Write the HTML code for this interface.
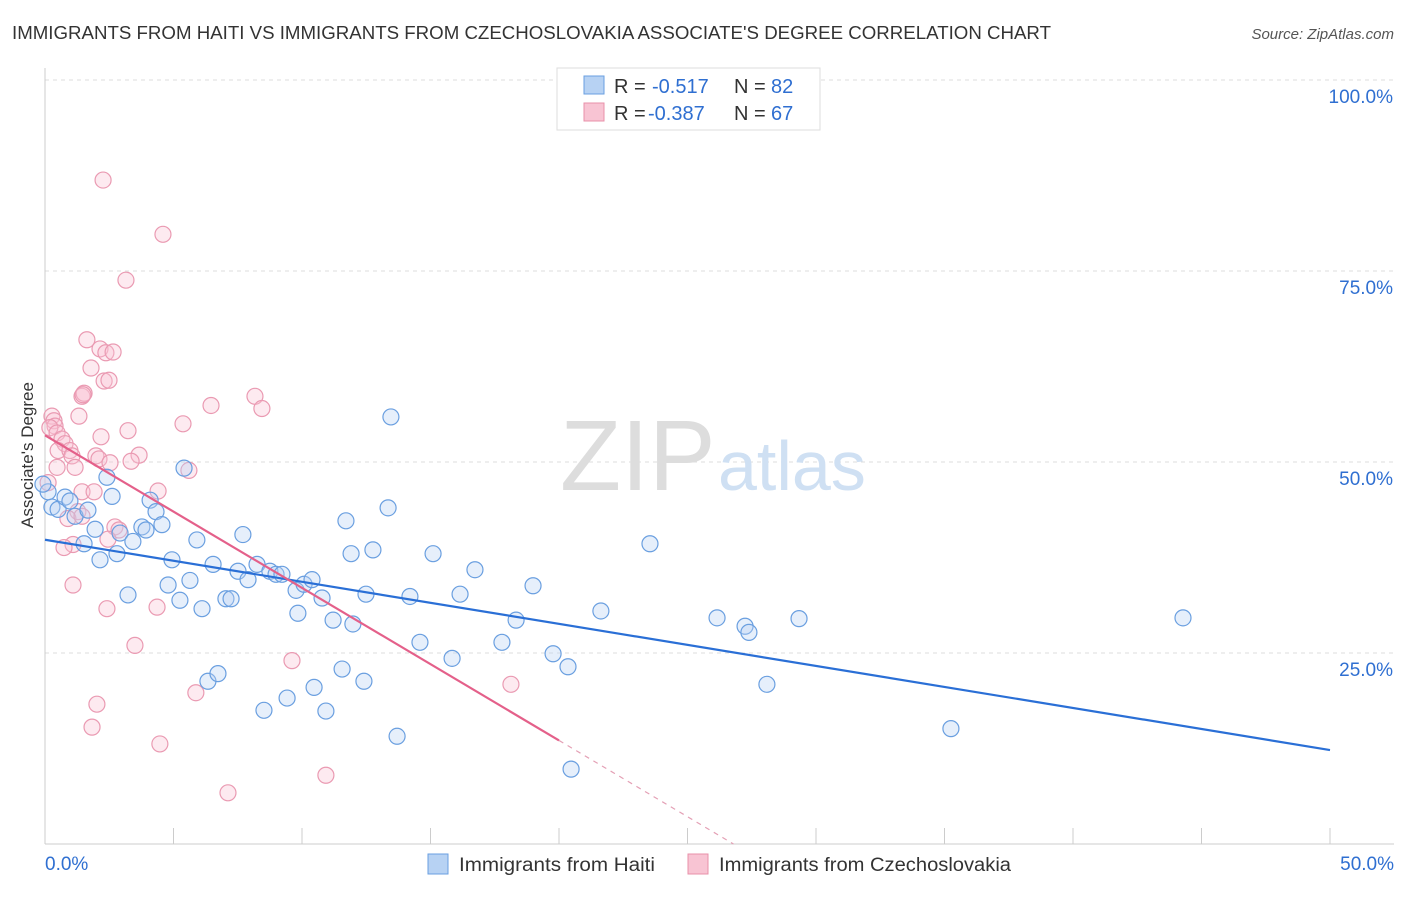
<!DOCTYPE html>
<html><head><meta charset="utf-8">
<style>
body{margin:0;background:#fff;font-family:"Liberation Sans",sans-serif;}
svg text{font-family:"Liberation Sans",sans-serif;}
</style></head>
<body>
<svg id="c" width="1406" height="892" xmlns="http://www.w3.org/2000/svg">
<text x="12" y="39" font-size="18" fill="#333" textLength="1039" lengthAdjust="spacingAndGlyphs">IMMIGRANTS FROM HAITI VS IMMIGRANTS FROM CZECHOSLOVAKIA ASSOCIATE'S DEGREE CORRELATION CHART</text>
<text x="1394" y="39" font-size="15" fill="#555" font-style="italic" text-anchor="end">Source: ZipAtlas.com</text>
<g id="grid"></g>
<text x="560" y="490" font-size="100" fill="#ddd" font-family="Liberation Serif">ZIP</text>
<text x="718" y="490" font-size="70" fill="#cfe0f3">atlas</text>
<text transform="translate(33,455) rotate(-90)" font-size="17" fill="#333" text-anchor="middle">Associate's Degree</text>
<g id="pts"></g>
<g id="lines"></g>
<g>
<rect x="557" y="68" width="263" height="62" fill="#fff" stroke="#ddd"/>
<rect x="584" y="76" width="20" height="18" fill="#b7d2f3" stroke="#6a9fe0"/>
<rect x="584" y="103" width="20" height="18" fill="#f8c4d3" stroke="#e890aa"/>
<text x="614" y="93" font-size="20" fill="#333">R =</text>
<text x="652" y="93" font-size="20" fill="#2f6fd1">-0.517</text>
<text x="734" y="93" font-size="20" fill="#333">N =</text>
<text x="771" y="93" font-size="20" fill="#2f6fd1">82</text>
<text x="614" y="120" font-size="20" fill="#333">R =</text>
<text x="648" y="120" font-size="20" fill="#2f6fd1">-0.387</text>
<text x="734" y="120" font-size="20" fill="#333">N =</text>
<text x="771" y="120" font-size="20" fill="#2f6fd1">67</text>
</g>
<g>
<rect x="428" y="854" width="20" height="20" fill="#b7d2f3" stroke="#6a9fe0"/>
<text x="459" y="871" font-size="19" fill="#333" textLength="196" lengthAdjust="spacingAndGlyphs">Immigrants from Haiti</text>
<rect x="688" y="854" width="20" height="20" fill="#f8c4d3" stroke="#e890aa"/>
<text x="719" y="871" font-size="19" fill="#333" textLength="292" lengthAdjust="spacingAndGlyphs">Immigrants from Czechoslovakia</text>
</g>
</svg>
<script>
const xTicks=[0,5,10,15,20,25,30,35,40,45,50];
const yTicks=[25,50,75,100];
const haitiX=[0.27,0.51,0.78,0.97,1.17,1.52,1.67,1.95,2.14,2.61,2.41,2.80,2.92,3.23,3.42,3.77,3.93,4.09,4.32,4.55,4.79,4.94,5.25,5.41,5.64,5.91,6.11,6.34,6.54,6.73,7.04,7.24,7.51,7.70,7.90,8.25,8.52,8.75,8.99,9.22,9.42,9.77,9.84,10.08,10.39,10.47,10.78,10.93,11.21,11.56,11.71,11.91,11.98,12.41,12.49,12.76,13.35,13.46,13.70,14.20,14.59,15.10,15.84,16.15,16.73,17.78,18.33,18.99,19.77,20.35,20.47,21.63,23.54,26.15,27.24,27.39,28.09,29.34,35.25,44.28,0.12,-0.08];
const haitiY=[44.1,43.8,45.4,44.9,42.9,39.3,43.7,41.2,37.2,45.5,48.0,38.0,40.7,32.6,39.6,41.5,41.1,45.0,43.5,41.8,33.9,37.2,31.9,49.2,34.5,39.8,30.8,21.3,36.6,22.3,32.1,32.1,35.7,40.5,34.6,36.6,17.5,35.7,35.3,35.3,19.1,33.2,30.2,34.0,34.6,20.5,32.2,17.4,29.3,22.9,42.3,38.0,28.8,21.3,32.7,38.5,44.0,55.9,14.1,32.4,26.4,38.0,24.3,32.7,35.9,26.4,29.3,33.8,24.9,23.2,9.8,30.5,39.3,29.6,28.5,27.7,20.9,29.5,15.1,29.6,46.1,47.1];
const czechX=[2.26,4.59,3.15,1.63,2.14,2.37,2.65,1.79,2.30,2.49,1.44,1.52,1.48,0.27,1.32,0.35,0.39,0.19,0.47,3.23,5.37,6.46,8.17,8.44,2.18,0.66,0.78,0.51,0.97,1.98,2.10,3.66,3.35,1.05,1.17,2.53,5.60,0.47,1.44,1.91,4.40,1.28,0.89,1.44,2.72,2.88,2.45,1.09,0.74,1.09,2.41,4.36,3.50,5.87,2.02,1.83,4.47,9.61,7.12,10.93,18.13,0.12];
const czechY=[86.9,79.8,73.8,66.0,64.8,64.3,64.4,62.3,60.6,60.7,58.6,59.0,58.8,56.0,56.0,55.4,54.7,54.5,53.8,54.1,55.0,57.4,58.6,57.0,53.3,53.0,52.4,51.5,51.5,50.8,50.4,50.9,50.1,50.8,49.3,49.9,48.9,49.3,46.1,46.1,46.2,43.5,42.6,42.9,41.5,41.1,39.9,39.2,38.8,33.9,30.8,31.0,26.0,19.8,18.3,15.3,13.1,24.0,6.7,9.0,20.9,47.3];
const x0=45,x1=1330,yBot=844,yTop=80;
const sx=v=>x0+v/50*(x1-x0);
const sy=v=>yBot-v/100*(yBot-yTop);
const NS="http://www.w3.org/2000/svg";
function mk(tag,attrs,parent){const e=document.createElementNS(NS,tag);for(const k in attrs)e.setAttribute(k,attrs[k]);parent.appendChild(e);return e;}
const grid=document.getElementById('grid');
yTicks.forEach(t=>{
 const l=mk('line',{x1:x0,x2:1394,y1:sy(t),y2:sy(t),stroke:'#ddd','stroke-dasharray':'4,4'},grid);
 
 
 const tx=mk('text',{x:1393,y:sy(t)+23,'font-size':19,fill:'#2f6fd1','text-anchor':'end'},grid);
 tx.textContent=t.toFixed(1)+'%';
 
 
});
const ax=mk('line',{x1:x0,x2:x0,y1:68,y2:yBot,stroke:'#ccc'},grid);


const bx=mk('line',{x1:x0,x2:1394,y1:yBot,y2:yBot,stroke:'#ccc'},grid);


xTicks.forEach(t=>{
 const l=mk('line',{x1:sx(t),x2:sx(t),y1:yBot-16,y2:yBot,stroke:'#ccc'},grid);
 
 
});
[[0,'start',45],[50,'end',1394]].forEach(([v,a,px])=>{
 const tx=mk('text',{x:px,y:870,'font-size':19,fill:'#2f6fd1','text-anchor':a},grid);
 tx.textContent=v.toFixed(1)+'%';
 
 
});
const pts=document.getElementById('pts');
czechX.forEach((v,i)=>{
 const c=mk('circle',{cx:sx(v),cy:sy(czechY[i]),r:8,fill:'rgba(248,196,211,0.35)',stroke:'#ea9ab2','stroke-width':1.2},pts);
 
 
});
haitiX.forEach((v,i)=>{
 const c=mk('circle',{cx:sx(v),cy:sy(haitiY[i]),r:8,fill:'rgba(183,210,243,0.35)',stroke:'#6a9fe0','stroke-width':1.2},pts);
 
 
});
function fit(X,Y){const n=X.length;let mx=0,my=0;X.forEach((x,i)=>{mx+=x;my+=Y[i];});mx/=n;my/=n;let sxy=0,sxx=0;X.forEach((x,i)=>{sxy+=(x-mx)*(Y[i]-my);sxx+=(x-mx)**2;});const b=sxy/sxx;return [my-b*mx,b];}
const lines=document.getElementById('lines');
const [ha,hb]=fit(haitiX,haitiY);
const hl=mk('line',{x1:sx(0),y1:sy(ha),x2:sx(50),y2:sy(ha+hb*50),stroke:'#2a6fd6','stroke-width':2.2},lines);


const [ca,cb]=fit(czechX,czechY);
const cEnd=20;
const cl=mk('line',{x1:sx(0),y1:sy(ca),x2:sx(cEnd),y2:sy(ca+cb*cEnd),stroke:'#e4608a','stroke-width':2.2},lines);


const zx=-ca/cb;
const cd=mk('line',{x1:sx(cEnd),y1:sy(ca+cb*cEnd),x2:sx(zx),y2:sy(0),stroke:'#e4a0b5','stroke-width':1.2,'stroke-dasharray':'5,5'},lines);


</script>
</body></html>
